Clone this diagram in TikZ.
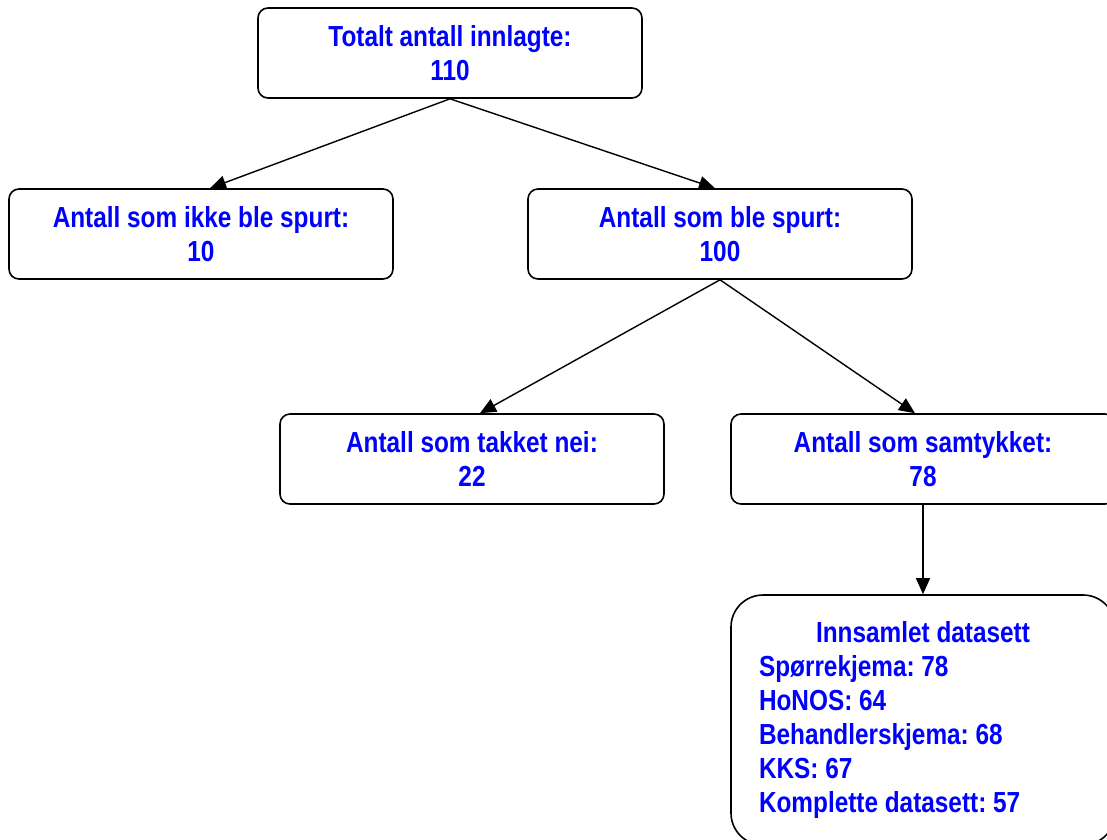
\documentclass[tikz,border=0pt]{standalone}
\usepackage{fontspec}
\setmainfont{Liberation Sans}[FakeStretch=0.84]
\usetikzlibrary{arrows.meta}
\frenchspacing
\tikzset{box/.style={draw,line width=1.6pt,rounded corners=10pt,minimum width=384pt,minimum height=90pt,align=center,text=blue,font=\fontsize{29}{34}\selectfont\bfseries}}
\tikzset{pil/.style={-{Triangle[length=16pt,width=14pt]},line width=1.4pt}}

\begin{document}
\begin{tikzpicture}[x=1pt,y=-1pt]
      \useasboundingbox (0,0) rectangle (1107,839);
      \clip (0,0) rectangle (1107,839);
      \node[box] (Tot) at (450,53) {Totalt antall innlagte:\\110};
      \node[box] (Ikke) at (201,234) {Antall som ikke ble spurt:\\10};
      \node[box] (Spurt) at (720,234) {Antall som ble spurt:\\100};
      \node[box] (Nei) at (472,459) {Antall som takket nei:\\22};
      \node[box] (Ja) at (923,459) {Antall som samtykket:\\78};
      \node[box,rounded corners=32pt,minimum height=250pt,align=flush left,
        inner xsep=28pt,text width=328pt] (Data) at (923,720)
        {\makebox[\linewidth]{Innsamlet datasett}\\
         Spørrekjema: 78\\
         HoNOS: 64\\
         Behandlerskjema: 68\\
         KKS: 67\\
         Komplette datasett: 57};
      \draw[pil] (Tot.south) -- ([xshift=9pt]Ikke.north);
      \draw[pil] (Tot.south) -- ([xshift=-5pt]Spurt.north);
      \draw[pil] (Spurt.south) -- ([xshift=8pt]Nei.north);
      \draw[pil] (Spurt.south) -- ([xshift=-8pt]Ja.north);
      \draw[pil] (Ja.south) -- (Data.north);
\end{tikzpicture}
\end{document}
